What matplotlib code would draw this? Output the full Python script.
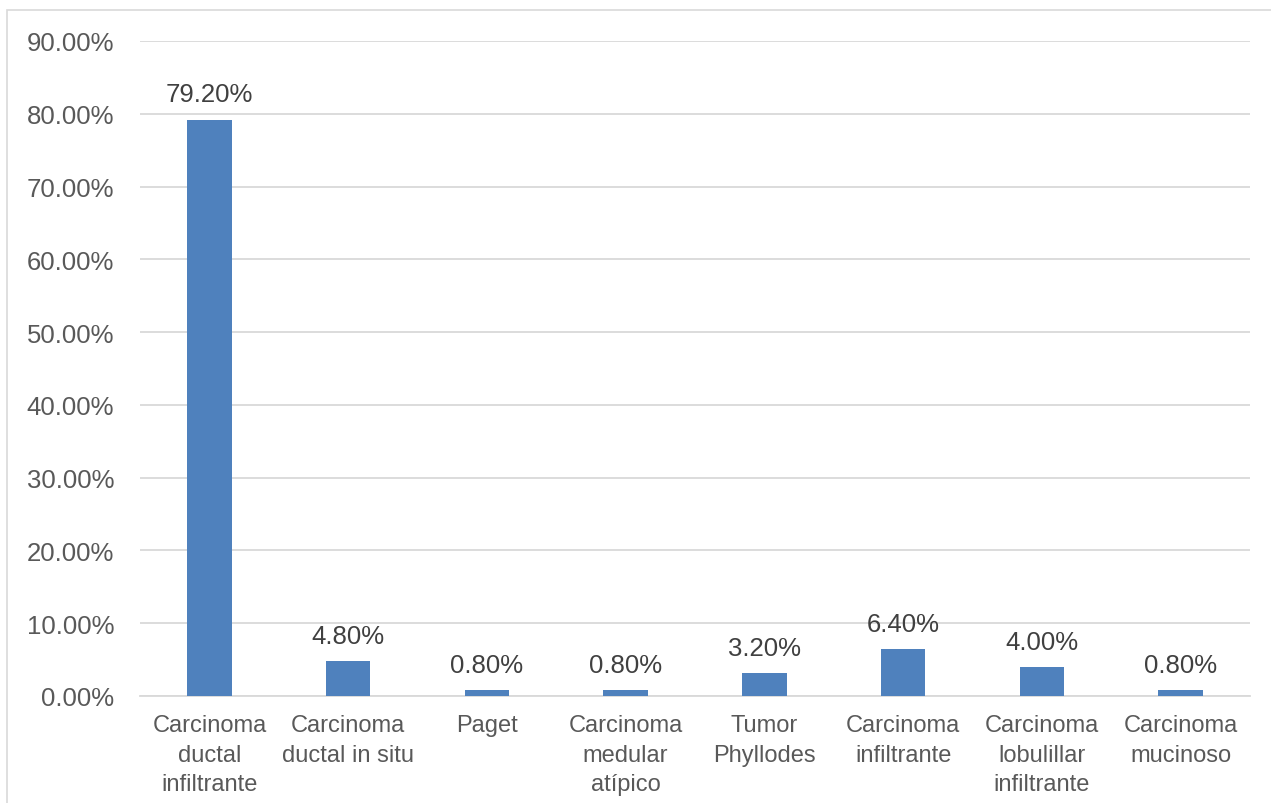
import matplotlib.pyplot as plt
from matplotlib.patches import Rectangle
from matplotlib.ticker import FuncFormatter

categorias = ["Carcinoma\nductal\ninfiltrante", "Carcinoma\nductal in situ", "Paget",
              "Carcinoma\nmedular\natípico", "Tumor\nPhyllodes", "Carcinoma\ninfiltrante",
              "Carcinoma\nlobulillar\ninfiltrante", "Carcinoma\nmucinoso"]
porcentajes = [79.20, 4.80, 0.80, 0.80, 3.20, 6.40, 4.00, 0.80]
ticks_y = [0, 10, 20, 30, 40, 50, 60, 70, 80, 90]

plt.rcParams["font.family"] = ["Liberation Sans", "DejaVu Sans"]
gris = "#595959"

fig = plt.figure(figsize=(12.71, 8.04), dpi=100)
ax = fig.add_axes([0.1102, 0.1331, 0.8733, 0.8147])

x = range(len(categorias))
barras = ax.bar(x, porcentajes, width=0.32, color="#4F81BD", zorder=3)

for xi, v in zip(x, porcentajes):
    ax.text(xi, v + 1.8, f"{v:.2f}%", ha="center", va="bottom", fontsize=18.5, color="#404040")

ax.set_xlim(-0.5, len(categorias) - 0.5)
ax.set_ylim(0, 90)
ax.set_yticks(ticks_y)
ax.yaxis.set_major_formatter(FuncFormatter(lambda v, p: f"{v:.2f}%"))
ax.set_xticks(list(x))
ax.set_xticklabels(categorias, fontsize=17, color=gris, linespacing=1.45)
ax.tick_params(axis="y", labelsize=18.5, labelcolor=gris, length=0, pad=18.5)
ax.tick_params(axis="x", length=0, pad=13)

ax.grid(axis="y", color="#D9D9D9", linewidth=1.3, zorder=0)
for s in ["top", "right", "left"]:
    ax.spines[s].set_visible(False)
ax.spines["bottom"].set_color("#D9D9D9")
ax.spines["bottom"].set_linewidth(1.3)

# marco exterior del gráfico
fig.patches.append(Rectangle((7 / 1271, -0.1), 1.2, 1.1 - 11 / 804, transform=fig.transFigure,
                             fill=False, edgecolor="#D9D9D9", linewidth=1.2, clip_on=False))

fig.savefig("out.png", dpi=100)
